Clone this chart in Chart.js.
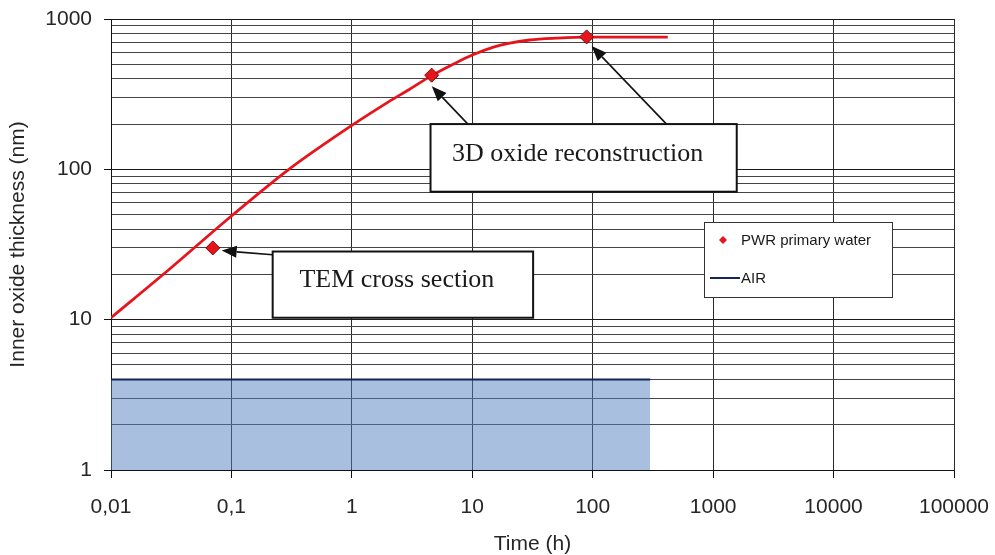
<!DOCTYPE html>
<html>
<head>
<meta charset="utf-8">
<script src="https://cdn.jsdelivr.net/npm/chart.js@4.4.0/dist/chart.umd.min.js"></script>
<style>
  body { margin: 0; background: #fff; }
  #wrap { width: 995px; height: 555px; }
</style>
</head>
<body>
<div id="wrap"><canvas id="chart" width="995" height="555"></canvas></div>
<script>
// fitted oxide growth curve (h, nm)
const curveTime = [0.01, 0.03, 0.1, 0.3, 1, 2, 3, 4.6, 7, 10, 15, 20, 30, 50, 89, 420];
const curveThick = [10.3, 21.4, 48.9, 100, 196, 280, 340, 420, 502, 576, 650, 689, 725, 745, 757, 757];

// measured points, PWR primary water
const pwrTime = [0.07, 4.6, 89];
const pwrThick = [30, 423, 760];

// AIR reference level
const airTime = [0.01, 300];
const airThick = [4, 4];

const xDecades = [0.01, 0.1, 1, 10, 100, 1000, 10000, 100000];

// callouts: box in data units, arrows from (tail) to (tip)
const notes = [
  { text: 'TEM cross section', x0: 0.22, x1: 32, y0: 28.4, y1: 10.3,
    arrows: [[0.22, 27, 0.083, 28.8]] },
  { text: '3D oxide reconstruction', x0: 4.5, x1: 1570, y0: 200, y1: 71,
    arrows: [[9.2, 200, 4.61, 357], [410, 200, 98, 661]] }
];

const pts = (xs, ys) => xs.map((x, i) => ({ x: x, y: ys[i] }));

const fmtX = v => String(v).replace('.', ',');

const yTicks = [];
for (let d = 1; d < 1000; d *= 10) {
  for (let k = 1; k < 10; k++) yTicks.push(k * d);
}
yTicks.push(1000);

const isDecade = v => Math.abs(Math.log10(v) - Math.round(Math.log10(v))) < 1e-9;

function drawArrow(ctx, x1, y1, x2, y2) {
  const ang = Math.atan2(y2 - y1, x2 - x1);
  const len = 15, half = 6;
  const bx = x2 - len * Math.cos(ang), by = y2 - len * Math.sin(ang);
  ctx.beginPath();
  ctx.moveTo(x1, y1);
  ctx.lineTo(bx, by);
  ctx.stroke();
  ctx.beginPath();
  ctx.moveTo(x2, y2);
  ctx.lineTo(bx + half * Math.sin(ang), by - half * Math.cos(ang));
  ctx.lineTo(bx - half * Math.sin(ang), by + half * Math.cos(ang));
  ctx.closePath();
  ctx.fill();
}

const calloutPlugin = {
  id: 'callouts',
  afterDatasetsDraw(chart) {
    const ctx = chart.ctx;
    const xs = chart.scales.x, ys = chart.scales.y;
    ctx.save();
    notes.forEach(n => {
      ctx.strokeStyle = '#111';
      ctx.fillStyle = '#111';
      ctx.lineWidth = 1.6;
      n.arrows.forEach(a => {
        drawArrow(ctx, xs.getPixelForValue(a[0]), ys.getPixelForValue(a[1]),
          xs.getPixelForValue(a[2]), ys.getPixelForValue(a[3]));
      });
      const l = xs.getPixelForValue(n.x0), r = xs.getPixelForValue(n.x1);
      const t = ys.getPixelForValue(n.y0), b = ys.getPixelForValue(n.y1);
      ctx.fillStyle = '#fff';
      ctx.fillRect(l, t, r - l, b - t);
      ctx.lineWidth = 2;
      ctx.strokeRect(l, t, r - l, b - t);
      ctx.fillStyle = '#1a1a1a';
      ctx.font = '26px "Liberation Serif", "DejaVu Serif", serif';
      ctx.textAlign = 'center';
      ctx.textBaseline = 'middle';
      ctx.fillText(n.text, (l + r) / 2 - 6, (t + b) / 2 - 4);
    });

    // legend box
    const ds = chart.data.datasets;
    const lx = 704, ly = 222, lw = 188, lh = 75;
    ctx.fillStyle = '#fff';
    ctx.fillRect(lx, ly, lw, lh);
    ctx.strokeStyle = '#333';
    ctx.lineWidth = 1;
    ctx.strokeRect(lx + 0.5, ly + 0.5, lw, lh);
    ctx.font = '15px "Liberation Sans", Arial, sans-serif';
    ctx.textAlign = 'left';
    ctx.textBaseline = 'middle';
    // marker entry
    ctx.fillStyle = ds[0].backgroundColor;
    ctx.beginPath();
    ctx.moveTo(723, 236); ctx.lineTo(727, 240); ctx.lineTo(723, 244); ctx.lineTo(719, 240);
    ctx.closePath();
    ctx.fill();
    ctx.fillStyle = '#1a1a1a';
    ctx.fillText(ds[0].label, 741, 241);
    // line entry
    ctx.strokeStyle = ds[2].borderColor;
    ctx.lineWidth = 2;
    ctx.beginPath();
    ctx.moveTo(710, 278); ctx.lineTo(740, 278);
    ctx.stroke();
    ctx.fillText(ds[2].label, 741, 279);
    ctx.restore();
  }
};

new Chart(document.getElementById('chart'), {
  type: 'scatter',
  data: {
    datasets: [
      {
        label: 'PWR primary water',
        data: pts(pwrTime, pwrThick),
        showLine: false,
        pointStyle: 'rectRot',
        pointRadius: 7,
        backgroundColor: '#e8141c',
        borderColor: '#7a0a0a',
        borderWidth: 1,
        order: 0
      },
      {
        label: 'fit',
        data: pts(curveTime, curveThick),
        showLine: true,
        borderColor: '#e8141c',
        borderWidth: 2.8,
        pointRadius: 0,
        cubicInterpolationMode: 'monotone',
        order: 1
      },
      {
        label: 'AIR',
        data: pts(airTime, airThick),
        showLine: true,
        borderColor: '#16245a',
        borderWidth: 2,
        backgroundColor: 'rgba(81,127,193,0.5)',
        fill: 'start',
        pointRadius: 0,
        order: 2
      }
    ]
  },
  options: {
    responsive: false,
    animation: false,
    layout: { padding: { left: 0, top: 19, right: 41, bottom: 0 } },
    plugins: { legend: { display: false }, tooltip: { enabled: false } },
    scales: {
      x: {
        type: 'logarithmic',
        min: 0.01,
        max: 100000,
        afterBuildTicks: s => { s.ticks = xDecades.map(v => ({ value: v })); },
        afterFit: s => { s.height = 85; s.paddingLeft = 0; s.paddingRight = 0; },
        border: { display: true, color: '#111', width: 1 },
        grid: { color: '#2a2a2a', lineWidth: 1, tickLength: 8, tickColor: '#111' },
        ticks: {
          autoSkip: false,
          maxRotation: 0,
          padding: 17,
          color: '#262626',
          font: { family: '"Liberation Sans", Arial, sans-serif', size: 21 },
          callback: v => fmtX(v)
        },
        title: {
          display: true,
          text: 'Time (h)',
          color: '#262626',
          font: { family: '"Liberation Sans", Arial, sans-serif', size: 21, lineHeight: 1 },
          padding: { top: 0, bottom: 0 }
        }
      },
      y: {
        type: 'logarithmic',
        min: 1,
        max: 1000,
        afterBuildTicks: s => { s.ticks = yTicks.map(v => ({ value: v })); },
        afterFit: s => { s.width = 111; s.paddingTop = 0; s.paddingBottom = 0; },
        border: { display: true, color: '#111', width: 1 },
        grid: {
          color: c => (c.tick && isDecade(c.tick.value)) ? '#1a1a1a' : '#444',
          lineWidth: 1,
          tickLength: 7,
          tickColor: c => (c.tick && isDecade(c.tick.value)) ? '#111' : 'rgba(0,0,0,0)'
        },
        ticks: {
          autoSkip: false,
          padding: 12,
          color: '#262626',
          font: { family: '"Liberation Sans", Arial, sans-serif', size: 21 },
          callback: v => isDecade(v) ? String(v) : ''
        },
        title: {
          display: true,
          text: 'Inner oxide thickness (nm)',
          color: '#262626',
          font: { family: '"Liberation Sans", Arial, sans-serif', size: 21, lineHeight: 1 },
          padding: { top: 8, bottom: 0 }
        }
      }
    }
  },
  plugins: [calloutPlugin]
});
</script>
</body>
</html>
